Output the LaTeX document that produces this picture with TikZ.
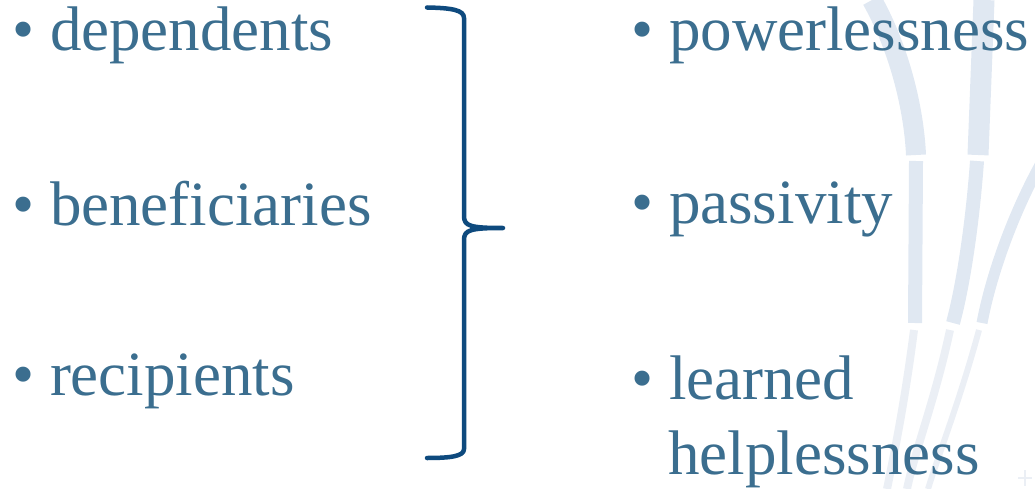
\documentclass[tikz,border=0pt]{standalone}
\usepackage{fontspec}
\setmainfont{Liberation Serif}
\definecolor{txtblue}{HTML}{3B6E8F}
\definecolor{bracecol}{HTML}{0E4A7E}
\definecolor{stripeA}{HTML}{E0E8F2}
\definecolor{stripeB}{HTML}{EBEFF5}
\tikzset{
  item/.style={anchor=base west, inner sep=0pt, text=txtblue, font=\fontsize{63}{75}\selectfont},
  bracestyle/.style={draw=bracecol, line width=4.5pt, line cap=round, line join=round},
  stripe/.style={draw=stripeA, line cap=butt},
  stripelow/.style={draw=stripeB, line cap=butt}
}
\begin{document}
\begin{tikzpicture}[x=1pt,y=-1pt]
\useasboundingbox (0,0) rectangle (1035,489);
% faint background stripes
\draw[stripe, line width=20pt] (872,0) .. controls (900,50) and (914,110) .. (916,155);
\draw[stripe, line width=14pt] (916,161) -- (915,323);
\draw[stripelow, line width=8pt] (914,330) .. controls (905,400) and (895,450) .. (887,489);
\draw[stripe, line width=21pt] (984,0) -- (978,155);
\draw[stripe, line width=14pt] (977,161) .. controls (972,230) and (962,290) .. (953,323);
\draw[stripelow, line width=8pt] (950,330) .. controls (935,400) and (915,450) .. (907,489);
\draw[stripe, line width=11pt] (1040,165) .. controls (1010,220) and (990,280) .. (982,323);
\draw[stripelow, line width=6pt] (979,330) .. controls (960,400) and (940,450) .. (928,489);
\draw[stripelow, line width=1.5pt] (1018,478) -- (1032,478) (1025,470) -- (1025,486);
% left column
\node[item] (dep) at (12,51) {• dependents};
\node[item] (ben) at (12,225) {• beneficiaries};
\node[item] (rec) at (12,395) {• recipients};
% right column
\node[item] (pow) at (631,51) {• powerlessness};
\node[item] (pas) at (631,223) {• passivity};
\node[item] (lea) at (631,399) {• learned};
\node[item, anchor=base west] (hel) at (lea.base west) [xshift=37pt, yshift=-75pt] {helplessness};
% brace
\coordinate (btop) at (427,7.5);
\coordinate (btip) at (503,228);
\coordinate (bbot) at (427,458);
\draw[bracestyle] (btop) .. controls (452,8) and (464,10) .. (464,18) -- (464,216)
  .. controls (464,226) and (470,228) .. (btip)
  .. controls (470,228) and (464,230) .. (464,240) -- (464,449)
  .. controls (464,456) and (452,458) .. (bbot);
\end{tikzpicture}
\end{document}
